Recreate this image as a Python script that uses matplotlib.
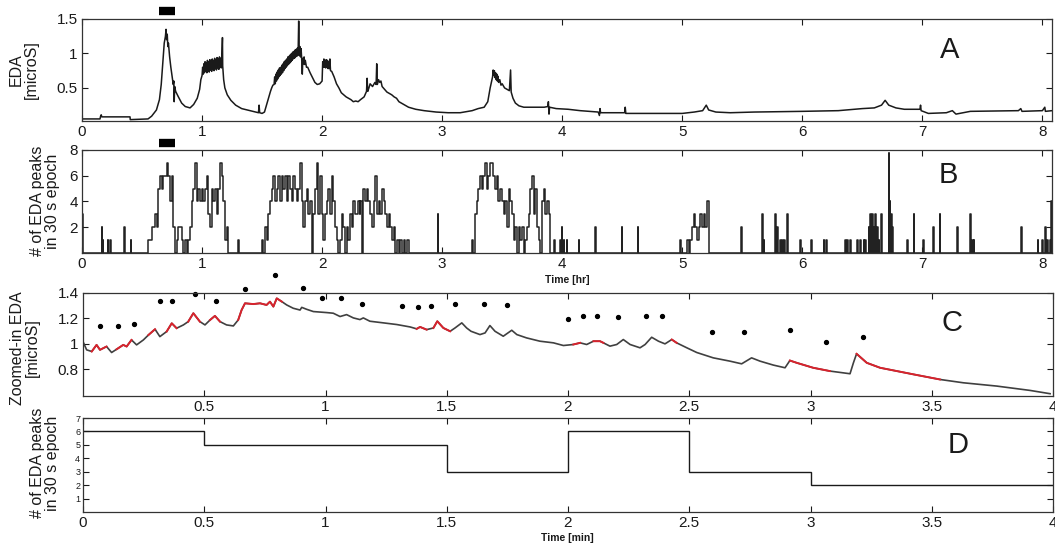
import numpy as np
import matplotlib
matplotlib.use("Agg")
import matplotlib.pyplot as plt

plt.rcParams['font.family'] = ['Liberation Sans', 'DejaVu Sans']

# ---------------- Panel A: overnight EDA (hour, microsiemens)
eda_trace = [
    (0.0, 0.05), (0.15, 0.05), (0.155, 0.09), (0.16, 0.11), (0.165, 0.08), (0.40, 0.08),
    (0.402, 0.04), (0.55, 0.05), (0.58, 0.09), (0.62, 0.18), (0.645, 0.33), (0.66, 0.55),
    (0.675, 0.9), (0.685, 1.15), (0.695, 1.25), (0.70, 1.35), (0.705, 1.2), (0.71, 1.28),
    (0.715, 1.1), (0.72, 1.15), (0.73, 0.95), (0.74, 0.8), (0.75, 0.68), (0.76, 0.55),
    (0.765, 0.6), (0.768, 0.3), (0.772, 0.52), (0.78, 0.45), (0.80, 0.38), (0.83, 0.28),
    (0.86, 0.23), (0.90, 0.21), (0.93, 0.26), (0.96, 0.35), (0.98, 0.48), (0.99, 0.62),
    (1.00, 0.68), (1.005, 0.8), (1.01, 0.7), (1.015, 0.85), (1.02, 0.72), (1.025, 0.88),
    (1.03, 0.74), (1.035, 0.86), (1.04, 0.72), (1.045, 0.9), (1.05, 0.75), (1.055, 0.88),
    (1.06, 0.73), (1.065, 0.91), (1.07, 0.76), (1.075, 0.89), (1.08, 0.74), (1.085, 0.92),
    (1.09, 0.77), (1.095, 0.9), (1.10, 0.75), (1.105, 0.93), (1.11, 0.78), (1.115, 0.91),
    (1.12, 0.76), (1.125, 0.94), (1.13, 0.79), (1.135, 0.92), (1.14, 0.77), (1.145, 0.95),
    (1.15, 0.8), (1.155, 0.93), (1.16, 0.79), (1.165, 0.96), (1.17, 1.23), (1.172, 0.82),
    (1.18, 0.62), (1.19, 0.5), (1.21, 0.4), (1.24, 0.32), (1.28, 0.25), (1.33, 0.2),
    (1.40, 0.17), (1.45, 0.15), (1.47, 0.14), (1.475, 0.25), (1.48, 0.14), (1.50, 0.13),
    (1.52, 0.15), (1.535, 0.24), (1.55, 0.33), (1.57, 0.45), (1.58, 0.5), (1.59, 0.54),
    (1.60, 0.55), (1.605, 0.66), (1.61, 0.56), (1.615, 0.7), (1.62, 0.6), (1.625, 0.73),
    (1.63, 0.63), (1.635, 0.76), (1.64, 0.66), (1.645, 0.79), (1.65, 0.68), (1.655, 0.8),
    (1.66, 0.7), (1.665, 0.83), (1.67, 0.72), (1.675, 0.85), (1.68, 0.75), (1.685, 0.88),
    (1.69, 0.78), (1.695, 0.9), (1.70, 0.8), (1.705, 0.92), (1.71, 0.82), (1.715, 0.95),
    (1.72, 0.84), (1.725, 0.96), (1.73, 0.86), (1.735, 0.98), (1.74, 0.88), (1.745, 1.0),
    (1.75, 0.9), (1.755, 1.02), (1.76, 0.92), (1.765, 1.03), (1.77, 0.93), (1.775, 1.05),
    (1.78, 0.95), (1.785, 1.06), (1.79, 0.96), (1.795, 1.08), (1.80, 0.98), (1.805, 1.47),
    (1.81, 0.97), (1.815, 1.1), (1.82, 0.95), (1.825, 1.07), (1.83, 0.92), (1.835, 0.7),
    (1.84, 0.93), (1.845, 0.85), (1.85, 0.95), (1.855, 0.84), (1.86, 0.9), (1.87, 0.8),
    (1.88, 0.8), (1.90, 0.72), (1.92, 0.65), (1.94, 0.58), (1.96, 0.55), (1.98, 0.56),
    (2.0, 0.6), (2.005, 0.88), (2.01, 0.8), (2.015, 0.92), (2.02, 0.8), (2.025, 0.9),
    (2.03, 0.79), (2.035, 0.91), (2.04, 0.8), (2.045, 0.9), (2.05, 0.78), (2.055, 0.88),
    (2.06, 0.78), (2.065, 0.92), (2.07, 0.75), (2.08, 0.74), (2.10, 0.66), (2.12, 0.56),
    (2.14, 0.5), (2.16, 0.43), (2.18, 0.4), (2.20, 0.37), (2.22, 0.35), (2.24, 0.33),
    (2.26, 0.3), (2.28, 0.31), (2.30, 0.3), (2.32, 0.33), (2.35, 0.37), (2.37, 0.45),
    (2.375, 0.64), (2.38, 0.45), (2.39, 0.5), (2.40, 0.56), (2.42, 0.52), (2.44, 0.58),
    (2.45, 0.55), (2.455, 0.85), (2.46, 0.55), (2.47, 0.62), (2.48, 0.58), (2.49, 0.6),
    (2.50, 0.52), (2.52, 0.48), (2.54, 0.44), (2.56, 0.42), (2.58, 0.4), (2.60, 0.37),
    (2.62, 0.35), (2.64, 0.3), (2.68, 0.26), (2.72, 0.22), (2.78, 0.19), (2.85, 0.17),
    (2.95, 0.15), (3.05, 0.14), (3.15, 0.14), (3.25, 0.17), (3.30, 0.2), (3.35, 0.22),
    (3.38, 0.3), (3.40, 0.5), (3.42, 0.66), (3.425, 0.76), (3.43, 0.68), (3.435, 0.75),
    (3.44, 0.65), (3.445, 0.72), (3.45, 0.62), (3.455, 0.7), (3.46, 0.6), (3.465, 0.67),
    (3.47, 0.58), (3.48, 0.62), (3.49, 0.54), (3.50, 0.56), (3.52, 0.5), (3.54, 0.48),
    (3.56, 0.46), (3.57, 0.76), (3.575, 0.44), (3.59, 0.35), (3.61, 0.28), (3.64, 0.24),
    (3.68, 0.22), (3.75, 0.22), (3.85, 0.22), (3.88, 0.23), (3.885, 0.3), (3.89, 0.12),
    (3.895, 0.22), (3.95, 0.2), (4.05, 0.19), (4.15, 0.17), (4.30, 0.15), (4.31, 0.1),
    (4.315, 0.2), (4.32, 0.14), (4.50, 0.14), (4.52, 0.14), (4.525, 0.22), (4.53, 0.13),
    (5.0, 0.13), (5.1, 0.15), (5.17, 0.17), (5.20, 0.25), (5.22, 0.18), (5.28, 0.15),
    (5.4, 0.14), (5.6, 0.15), (6.0, 0.16), (6.3, 0.17), (6.5, 0.2), (6.6, 0.21),
    (6.66, 0.25), (6.69, 0.32), (6.72, 0.25), (6.78, 0.21), (6.85, 0.19), (6.98, 0.19),
    (6.985, 0.25), (6.99, 0.17), (7.05, 0.13), (7.2, 0.14), (7.25, 0.17), (7.28, 0.12),
    (7.4, 0.16), (7.8, 0.17), (7.82, 0.2), (7.83, 0.16), (8.0, 0.17), (8.02, 0.22),
    (8.025, 0.16), (8.08, 0.17),
]

# ---------------- Panel B: EDA peaks per 30 s epoch
B_STEP = 0.0139  # hours between listed epochs inside a burst
b_burst_start = [0.553, 1.497, 2.317, 3.247, 5.039]
b_burst_counts = [
    [1, 1, 2, 2, 3, 2, 5, 6, 5, 6, 6, 7, 6, 4, 6, 2, 0, 1, 2, 2, 1, 0, 1, 0, 1, 2, 4, 5,
     7, 4, 5, 4, 5, 4, 5, 6, 3, 2, 5, 4, 5, 3, 5, 7, 6, 4, 1, 2],
    [1, 0, 2, 1, 3, 4, 5, 6, 4, 5, 6, 4, 6, 5, 6, 4, 6, 5, 4, 6, 5, 4, 5, 7, 4, 2, 4, 5,
     3, 4, 0, 3, 5, 7, 3, 6, 3, 1, 3, 4, 5, 3, 6, 4, 2, 1, 0, 1, 3, 2, 0, 2, 1, 3, 2, 4,
     3, 3, 4, 4],
    [3, 4, 5, 4, 5, 4, 3, 2, 4, 6, 3, 4, 3, 5, 4, 3, 2, 3, 2, 1, 2, 0, 1, 0, 1, 0, 1, 0,
     1],
    [1, 0, 3, 4, 5, 6, 5, 6, 7, 5, 6, 7, 7, 6, 5, 6, 4, 5, 4, 3, 4, 2, 5, 4, 3, 1, 2, 0,
     2, 1, 2, 0, 1, 2, 3, 5, 6, 3, 5, 2, 1, 0, 4, 5, 3, 4, 3],
    [1, 0, 1, 2, 3, 2, 1, 2, 3, 2, 3, 2, 4],
]
b_spike_hr = [0.0, 0.164, 0.172, 0.214, 0.233, 0.35, 0.405, 1.303, 2.964, 3.933, 3.983,
              3.997, 4.011, 4.039, 4.136, 4.275, 4.497, 4.63, 4.983, 5.492, 5.664, 5.678,
              5.775, 5.789, 5.817, 5.831, 5.85, 5.872, 5.983, 6.075, 6.178, 6.197, 6.358,
              6.372, 6.4, 6.456, 6.483, 6.511, 6.525, 6.553, 6.567, 6.581, 6.594, 6.608,
              6.622, 6.636, 6.656, 6.72, 6.728, 6.739, 6.75, 6.872, 6.928, 7.006, 7.089,
              7.144, 7.289, 7.4, 7.414, 7.428, 7.822, 7.961, 7.997, 8.025, 8.039, 8.067,
              8.075]
b_spike_count = [3, 2, 1, 1, 1, 2, 1, 1, 3, 1, 1, 2, 1, 1, 1, 2, 2, 2, 1, 2, 3, 1,
                 3, 2, 1, 1, 1, 3, 1, 1, 1, 1, 1, 1, 1, 1, 1, 1, 1, 2, 3, 3, 2, 3,
                 2, 1, 3, 7.8, 4, 3, 2, 1, 3, 1, 2, 3, 2, 3, 1, 1, 2, 1, 1, 2, 1, 1,
                 4]

# ---------------- Panel C: zoomed-in EDA (minute, microsiemens)
zoom_trace = [
    (0.0, 1.018), (0.015, 0.953), (0.036, 0.94), (0.056, 0.992), (0.07, 0.953),
    (0.097, 0.979), (0.118, 0.932), (0.139, 0.958), (0.166, 0.992), (0.18, 0.979),
    (0.2, 1.031), (0.221, 0.992), (0.249, 1.031), (0.27, 1.07), (0.297, 1.115),
    (0.317, 1.057), (0.345, 1.097), (0.366, 1.162), (0.386, 1.123), (0.414, 1.149),
    (0.434, 1.175), (0.455, 1.241), (0.482, 1.175), (0.503, 1.149), (0.524, 1.188),
    (0.544, 1.22), (0.565, 1.175), (0.592, 1.149), (0.62, 1.141), (0.64, 1.188),
    (0.654, 1.266), (0.668, 1.319), (0.702, 1.313), (0.73, 1.319), (0.757, 1.306),
    (0.771, 1.332), (0.785, 1.293), (0.799, 1.358), (0.82, 1.332), (0.84, 1.306),
    (0.867, 1.28), (0.895, 1.266), (0.902, 1.287), (0.922, 1.272), (0.95, 1.254),
    (1.005, 1.246), (1.032, 1.241), (1.06, 1.215), (1.087, 1.23), (1.115, 1.204),
    (1.142, 1.191), (1.156, 1.204), (1.183, 1.178), (1.239, 1.165), (1.294, 1.152),
    (1.349, 1.133), (1.376, 1.118), (1.39, 1.133), (1.417, 1.112), (1.445, 1.125),
    (1.461, 1.178), (1.486, 1.125), (1.514, 1.099), (1.534, 1.125), (1.562, 1.165),
    (1.582, 1.125), (1.6, 1.099), (1.637, 1.073), (1.658, 1.086), (1.678, 1.144),
    (1.699, 1.099), (1.733, 1.06), (1.768, 1.107), (1.789, 1.073), (1.829, 1.047),
    (1.884, 1.021), (1.94, 1.008), (1.981, 0.987), (2.022, 0.995), (2.05, 1.008),
    (2.077, 0.995), (2.105, 1.021), (2.132, 1.021), (2.146, 1.008), (2.173, 0.982),
    (2.201, 0.995), (2.228, 1.034), (2.256, 0.995), (2.297, 0.969), (2.318, 0.995),
    (2.345, 1.052), (2.373, 1.021), (2.4, 1.0), (2.428, 1.034), (2.448, 1.008),
    (2.49, 0.969), (2.531, 0.932), (2.599, 0.89), (2.668, 0.864), (2.716, 0.843),
    (2.757, 0.89), (2.792, 0.864), (2.847, 0.833), (2.895, 0.812), (2.915, 0.869),
    (2.943, 0.851), (3.011, 0.812), (3.08, 0.786), (3.163, 0.765), (3.177, 0.851),
    (3.19, 0.922), (3.232, 0.851), (3.287, 0.812), (3.425, 0.76), (3.534, 0.72),
    (3.63, 0.694), (3.768, 0.668), (3.905, 0.634), (3.988, 0.608),
]
red_start = [0.03, 0.125, 0.26, 0.33, 0.43, 0.52, 0.64, 1.37, 1.44, 1.55, 2.02, 2.1,
             2.33, 2.41, 2.58, 2.73, 2.9, 3.18]
red_end = [0.11, 0.2, 0.3, 0.4, 0.5, 0.58, 0.82, 1.42, 1.52, 1.58, 2.06, 2.15,
           2.37, 2.45, 2.62, 2.78, 3.15, 3.58]
peak_min = [0.07, 0.146, 0.212, 0.318, 0.368, 0.462, 0.548, 0.668, 0.792, 0.906, 0.984,
            1.063, 1.149, 1.314, 1.383, 1.434, 1.534, 1.654, 1.75, 2.0, 2.06, 2.118,
            2.205, 2.32, 2.386, 2.595, 2.726, 2.915, 3.064, 3.215]
peak_level = [1.141, 1.141, 1.157, 1.34, 1.34, 1.392, 1.34, 1.43, 1.54, 1.437, 1.358,
              1.358, 1.316, 1.295, 1.288, 1.30, 1.316, 1.316, 1.303, 1.196, 1.222, 1.222,
              1.212, 1.222, 1.217, 1.094, 1.094, 1.112, 1.016, 1.052]

# ---------------- Panel D: peaks per 30 s epoch (minutes)
epoch_edges = [0, 0.5, 1.5, 2.0, 2.5, 3.0, 4.0]
epoch_counts = [6, 5, 3, 6, 3, 2]

# highlighted window shown above panels A and B (hours)
window_hr = [0.64, 0.775]

W, H = 1055, 545
fig = plt.figure(figsize=(W / 100, H / 100), dpi=100)


def px_axes(top, bottom, left=82, right=1052):
    return fig.add_axes([left / W, 1 - bottom / H, (right - left) / W, (bottom - top) / H])


axA = px_axes(19, 121)
axB = px_axes(150, 253)
axC = px_axes(293, 396, left=83, right=1053)
axD = px_axes(418, 512, left=83, right=1053)

ink = '#1a1a1a'
for ax in (axA, axB, axC, axD):
    ax.tick_params(direction='in', top=True, right=True, length=4, width=0.8,
                   labelsize=11, pad=3, colors=ink)
    for s in ax.spines.values():
        s.set_linewidth(0.9)
        s.set_color('#333333')

# A
tA, vA = zip(*eda_trace)
axA.plot(tA, vA, color=ink, lw=1.1)
axA.set_xlim(0, 8.08)
axA.set_ylim(0.02, 1.5)
axA.set_xticks(range(9))
axA.set_yticks([0.5, 1, 1.5])
axA.set_yticklabels(['0.5', '1', '1.5'])
axA.plot(window_hr, [1.615, 1.615], color='black', lw=6, solid_capstyle='butt',
         clip_on=False)

# B
events = []
for start, counts in zip(b_burst_start, b_burst_counts):
    for i, c in enumerate(counts):
        events.append((start + i * B_STEP, c))
    events.append((start + len(counts) * B_STEP, 0))
for t, c in zip(b_spike_hr, b_spike_count):
    events.append((t, c))
    events.append((t + 0.005, 0))
events.sort()
tB, vB = zip(*events)
axB.plot(tB, vB, color='#222222', lw=1.1, drawstyle='steps-post')
axB.set_xlim(0, 8.08)
axB.set_ylim(0, 8)
axB.set_xticks(range(9))
axB.set_yticks([2, 4, 6, 8])
axB.plot(window_hr, [8.54, 8.54], color='black', lw=6, solid_capstyle='butt',
         clip_on=False)

# C
tC, vC = zip(*zoom_trace)
tC = np.array(tC)
vC = np.array(vC)
axC.plot(tC, vC, color='#404040', lw=1.2)
for s, e in zip(red_start, red_end):
    m = (tC >= s) & (tC <= e)
    axC.plot(tC[m], vC[m], color='#d9232d', lw=1.4)
axC.plot(peak_min, peak_level, 'o', color='black', ms=2.8, clip_on=False)
axC.set_xlim(0, 4)
axC.set_ylim(0.59, 1.4)
axC.set_xticks([0.5, 1, 1.5, 2, 2.5, 3, 3.5, 4])
axC.set_xticklabels(['0.5', '1', '1.5', '2', '2.5', '3', '3.5', '4'])
axC.set_yticks([0.8, 1, 1.2, 1.4])
axC.set_yticklabels(['0.8', '1', '1.2', '1.4'])

# D
axD.stairs(epoch_counts, epoch_edges, color=ink, lw=1.0, baseline=None)
axD.set_xlim(0, 4)
axD.set_ylim(0, 7)
axD.set_xticks([0, 0.5, 1, 1.5, 2, 2.5, 3, 3.5, 4])
axD.set_xticklabels(['0', '0.5', '1', '1.5', '2', '2.5', '3', '3.5', '4'])
axD.set_yticks(range(1, 8))
axD.tick_params(axis='y', labelsize=6.5, pad=2)

# axis titles
ylab = dict(rotation=90, ha='center', va='center', fontsize=11.5, color=ink,
            linespacing=1.05)
fig.text(24 / W, 1 - 70 / H, 'EDA\n[microS]', **ylab)
fig.text(45 / W, 1 - 201 / H, '# of EDA peaks\nin 30 s epoch', **ylab)
fig.text(25 / W, 1 - 348 / H, 'Zoomed-in EDA\n[microS]', **ylab)
fig.text(45 / W, 1 - 463 / H, '# of EDA peaks\nin 30 s epoch', **ylab)
fig.text(567 / W, 1 - 280 / H, 'Time [hr]', ha='center', va='center', fontsize=7.5,
         fontweight='bold', color=ink)
fig.text(567 / W, 1 - 538 / H, 'Time [min]', ha='center', va='center', fontsize=7.5,
         fontweight='bold', color=ink)

for letter, (x, y) in zip('ABCD', [(950, 50), (948, 175), (952, 323), (958, 445)]):
    fig.text(x / W, 1 - y / H, letter, ha='center', va='center', fontsize=21, color=ink)

fig.savefig('out.png', dpi=100, facecolor='white')
